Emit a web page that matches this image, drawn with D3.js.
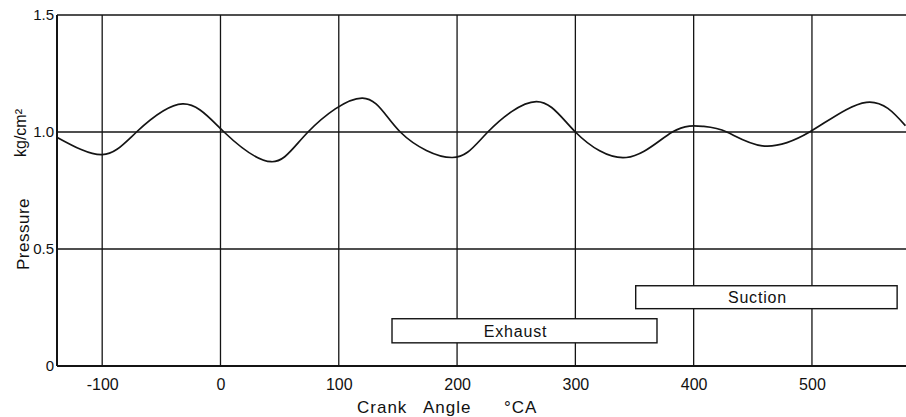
<!DOCTYPE html>
<html><head><meta charset="utf-8">
<script src="https://cdn.jsdelivr.net/npm/d3@7"></script>
<style>
body{margin:0;background:#fff;}
text{font-family:"Liberation Sans","DejaVu Sans",sans-serif;fill:#111;}
</style></head>
<body><svg id="c" width="906" height="417"></svg>
<script>
const angles = [-138,-100,-71,-32,3,43,74,120,152,196,226,267,300,343,382,408,428,458,498,546,579];
const pressure = [0.977,0.903,1.0,1.12,1.0,0.873,1.0,1.145,1.0,0.891,1.0,1.13,1.0,0.891,1.0,1.024,1.0,0.941,1.0,1.127,1.027];
const xTicks = [-100,0,100,200,300,400,500];
const yTicks = [0,0.5,1.0,1.5];
const yTickLabels = ["0","0.5","1.0","1.5"];
const phaseNames = ["Exhaust","Suction"];
const phaseStart = [145,351];
const phaseEnd = [369,572];
const phaseLow = [0.099,0.245];
const phaseHigh = [0.202,0.343];

const svg = d3.select("#c");
const x = d3.scaleLinear().domain([-138.2,579.5]).range([57,906]);
const y = d3.scaleLinear().domain([0,1.5]).range([366,15]);
const ink = "#141414";

svg.append("g").selectAll("line").data(xTicks).join("line")
  .attr("x1",d=>x(d)).attr("x2",d=>x(d)).attr("y1",y(0)).attr("y2",y(1.5))
  .attr("stroke",ink).attr("stroke-width",1.3);
svg.append("g").selectAll("line").data(yTicks).join("line")
  .attr("x1",x.range()[0]).attr("x2",x.range()[1]).attr("y1",d=>y(d)).attr("y2",d=>y(d))
  .attr("stroke",ink).attr("stroke-width",d=>d===0?2:1.3);
svg.append("line").attr("x1",x.range()[0]).attr("x2",x.range()[0]).attr("y1",y(0)).attr("y2",y(1.5))
  .attr("stroke",ink).attr("stroke-width",2);

const xAxis = d3.axisBottom(x).tickValues(xTicks).tickSize(0).tickPadding(13).tickFormat(d=>d);
const gx = svg.append("g").attr("transform",`translate(0,${y(0)})`).call(xAxis);
gx.select(".domain").remove();
gx.selectAll("text").attr("font-size",16).attr("fill",ink)
  .attr("font-family","'Liberation Sans','DejaVu Sans',sans-serif")
  .text(d=>d<0?"-"+Math.abs(d):d);

const yAxis = d3.axisLeft(y).tickValues(yTicks).tickSize(0).tickPadding(3).tickFormat((d,i)=>yTickLabels[i]);
const gy = svg.append("g").attr("transform",`translate(${x.range()[0]},0)`).call(yAxis);
gy.select(".domain").remove();
gy.selectAll("text").attr("font-size",15).attr("fill",ink)
  .attr("font-family","'Liberation Sans','DejaVu Sans',sans-serif");

const phases = phaseNames.map((n,i)=>({n,s:phaseStart[i],e:phaseEnd[i],lo:phaseLow[i],hi:phaseHigh[i]}));
const pg = svg.append("g").selectAll("g").data(phases).join("g");
pg.append("rect").attr("x",d=>x(d.s)).attr("y",d=>y(d.hi))
  .attr("width",d=>x(d.e)-x(d.s)).attr("height",d=>y(d.lo)-y(d.hi))
  .attr("fill","#fff").attr("stroke",ink).attr("stroke-width",1.4);
pg.append("text").attr("x",d=>(x(d.s)+x(d.e))/2-9).attr("y",d=>(y(d.lo)+y(d.hi))/2)
  .attr("dy","0.36em").attr("text-anchor","middle").attr("font-size",16).attr("letter-spacing",0.8)
  .text(d=>d.n);

const pts = angles.map((a,i)=>[a,pressure[i]]);
svg.append("path").datum(pts)
  .attr("d",d3.line().x(d=>x(d[0])).y(d=>y(d[1])).curve(d3.curveNatural))
  .attr("fill","none").attr("stroke",ink).attr("stroke-width",1.7);

const xt = svg.append("text").attr("y",413).attr("font-size",17).attr("letter-spacing",1);
xt.append("tspan").attr("x",357).text("Crank");
xt.append("tspan").attr("x",423).text("Angle");
xt.append("tspan").attr("x",504).text("°CA");
svg.append("text").attr("transform","translate(29,234) rotate(-90)").attr("text-anchor","middle")
  .attr("font-size",17).attr("letter-spacing",0.5).text("Pressure");
svg.append("text").attr("transform","translate(26,133) rotate(-90)").attr("text-anchor","middle")
  .attr("font-size",16).text("kg/cm²");
</script></body></html>
